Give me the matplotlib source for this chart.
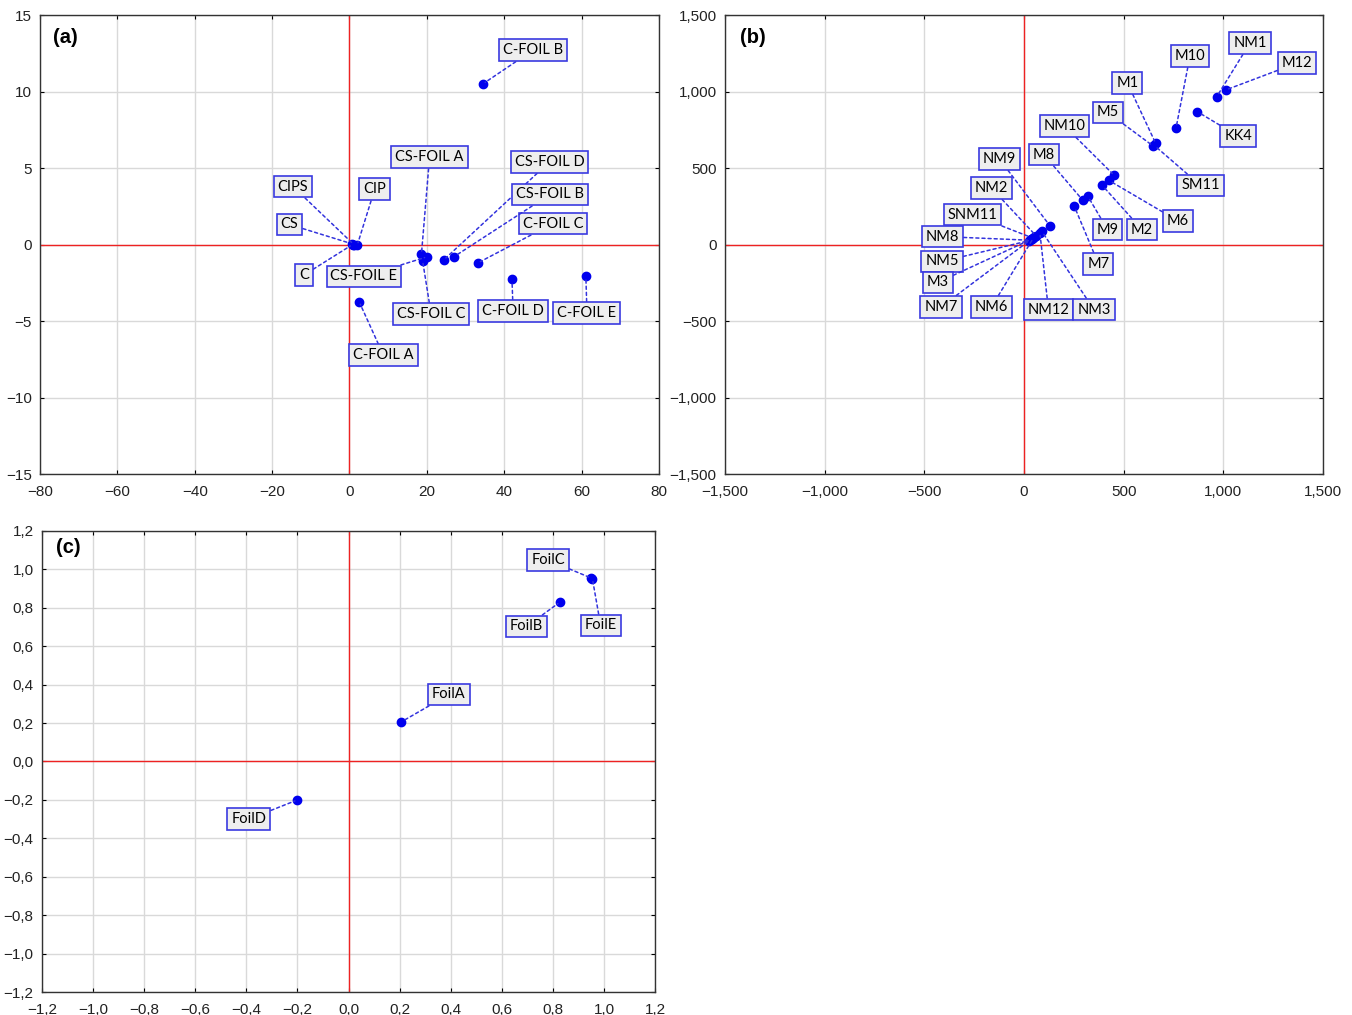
import matplotlib
matplotlib.use("Agg")
import matplotlib.pyplot as plt
from matplotlib.ticker import FuncFormatter, MultipleLocator

# ---- Panel (a) ----
a_names = ["C-FOIL B", "C-FOIL C", "C-FOIL D", "C-FOIL E", "CS-FOIL D", "CS-FOIL B",
           "CS-FOIL A", "CS-FOIL C", "CS-FOIL E", "C-FOIL A", "C", "CS", "CIPS", "CIP"]
a_x = [34.5, 33.2, 42.0, 61.1, 24.4, 27.0, 18.6, 18.9, 20.1, 2.5, 0.8, 0.6, 1.2, 2.0]
a_y = [10.5, -1.2, -2.25, -2.06, -1.0, -0.8, -0.64, -1.06, -0.8, -3.74, 0.0, 0.05, -0.02, -0.05]
a_lx = [47.4, 52.6, 42.3, 61.4, 51.7, 51.8, 20.7, 21.1, 3.75, 8.8, -11.8, -15.5, -14.6, 6.5]
a_ly = [12.7, 1.37, -4.35, -4.48, 5.4, 3.27, 5.7, -4.54, -2.09, -7.25, -2.0, 1.31, 3.79, 3.6]

# ---- Panel (b) ----
b_names = ["NM1", "M12", "KK4", "M10", "M1", "M5", "SM11", "NM10", "M6", "M2",
           "M8", "M9", "M7", "NM9", "NM2", "SNM11", "NM8", "NM5", "M3", "NM7",
           "NM6", "NM12", "NM3"]
b_x = [967, 1012, 870, 763, 661, 646, 652, 453, 425, 391,
       294, 320, 252, 130, 60, 45, 30, 25, 35, 40, 50, 80, 90]
b_y = [966, 1010, 868, 761, 661, 646, 650, 452, 420, 389,
       291, 317, 252, 123, 58, 42, 28, 25, 33, 38, 48, 77, 86]
b_lx = [1134, 1370, 1074, 833, 519, 421, 886, 203, 773, 592,
        100, 419, 374, -123, -163, -258, -409, -411, -432, -416, -163, 123, 351]
b_ly = [1317, 1186, 709, 1232, 1056, 863, 386, 775, 154, 98,
        588, 98, -127, 559, 369, 196, 52, -111, -248, -408, -408, -425, -425]

# ---- Panel (c) ----
c_names = ["FoilA", "FoilB", "FoilC", "FoilD", "FoilE"]
c_x = [0.205, 0.828, 0.95, -0.2, 0.955]
c_y = [0.205, 0.83, 0.955, -0.2, 0.95]
c_lx = [0.393, 0.697, 0.781, -0.39, 0.987]
c_ly = [0.349, 0.703, 1.049, -0.30, 0.708]

plt.rcParams["font.family"] = ["Liberation Sans", "DejaVu Sans"]

fig = plt.figure(figsize=(13.52, 10.15), dpi=100)
ax_a = fig.add_axes([0.02959, 0.5330, 0.4578, 0.4522])
ax_b = fig.add_axes([0.5362, 0.5330, 0.4423, 0.4522])
ax_c = fig.add_axes([0.0311, 0.02266, 0.4534, 0.4542])

DOT = "#0000ee"
LINE = "#3333dd"
BOX = dict(boxstyle="square,pad=0.27", fc="#eeeeee", ec="#3a3ae0", lw=1.2)


def fmt_int(v, pos):
    s = f"{abs(round(v)):,}"
    return ("\u2212" + s) if v < -1e-9 else s


def fmt_dec(v, pos):
    s = f"{abs(v):.1f}".replace(".", ",")
    return ("\u2212" + s) if v < -1e-9 else s


def style(ax, lim_x, lim_y, step_x, step_y, fmt, tag, tag_xy):
    ax.set_xlim(*lim_x)
    ax.set_ylim(*lim_y)
    ax.xaxis.set_major_locator(MultipleLocator(step_x))
    ax.yaxis.set_major_locator(MultipleLocator(step_y))
    ax.xaxis.set_major_formatter(FuncFormatter(fmt))
    ax.yaxis.set_major_formatter(FuncFormatter(fmt))
    ax.grid(True, color="#d9d9d9", lw=1.0)
    ax.set_axisbelow(True)
    ax.axhline(0, color="#ee2222", lw=1.0, zorder=1.5)
    ax.axvline(0, color="#ee2222", lw=1.0, zorder=1.5)
    ax.tick_params(direction="in", length=3, width=0.8, labelsize=11,
                   top=True, right=True, labelcolor="#222222", pad=6)
    ax.tick_params(axis="x", pad=8)
    for sp in ax.spines.values():
        sp.set_color("#333333")
        sp.set_linewidth(1.0)
    ax.text(tag_xy[0], tag_xy[1], tag, transform=ax.transAxes, fontsize=14.5,
            fontweight="bold", va="center", ha="left")


def plot_points(ax, names, xs, ys, lxs, lys):
    ax.plot(xs, ys, "o", color=DOT, ms=6, zorder=4)
    for n, x, y, lx, ly in zip(names, xs, ys, lxs, lys):
        ax.annotate(n, xy=(x, y), xytext=(lx, ly), ha="center", va="center",
                    fontsize=10.5, family=["Lato", "DejaVu Sans"], bbox=BOX,
                    zorder=5,
                    arrowprops=dict(arrowstyle="-", color=LINE, lw=1.1,
                                    linestyle=(0, (2, 2)), shrinkA=0, shrinkB=2))


style(ax_a, (-80, 80), (-15, 15), 20, 5, fmt_int, "(a)", (0.021, 0.95))
plot_points(ax_a, a_names, a_x, a_y, a_lx, a_ly)

style(ax_b, (-1500, 1500), (-1500, 1500), 500, 500, fmt_int, "(b)", (0.025, 0.95))
plot_points(ax_b, b_names, b_x, b_y, b_lx, b_ly)

style(ax_c, (-1.2, 1.2), (-1.2, 1.2), 0.2, 0.2, fmt_dec, "(c)", (0.023, 0.965))
plot_points(ax_c, c_names, c_x, c_y, c_lx, c_ly)

fig.savefig("out.png", dpi=100)
